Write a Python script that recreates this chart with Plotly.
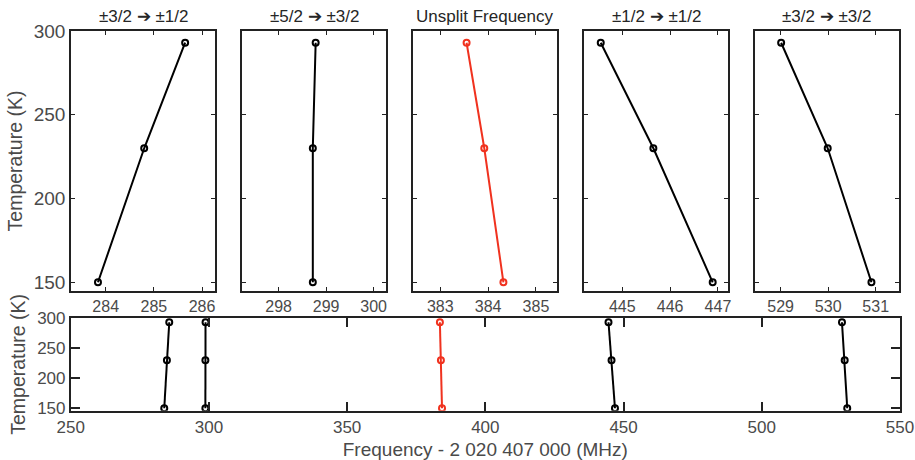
import plotly.graph_objects as go

# ---- data ----
temperature = [150, 230, 293]
f_32_12 = [283.84, 284.80, 285.65]
f_52_32 = [298.72, 298.72, 298.78]
f_unsplit = [384.32, 383.92, 383.55]
f_12_12 = [446.89, 445.65, 444.55]
f_32_32 = [530.91, 529.99, 529.01]

panel_titles = ["±3/2 ➔ ±1/2", "±5/2 ➔ ±3/2", "Unsplit Frequency", "±1/2 ➔ ±1/2", "±3/2 ➔ ±3/2"]
panel_series = [f_32_12, f_52_32, f_unsplit, f_12_12, f_32_32]
panel_colors = ["black", "black", "#f0321f", "black", "black"]
panel_tickvals = [[284, 285, 286], [298, 299, 300], [383, 384, 385], [445, 446, 447], [529, 530, 531]]
panel_ranges = [[283.28, 286.27], [297.23, 300.26], [382.43, 385.44], [444.20, 447.21], [528.46, 531.49]]
y_ticks = [150, 200, 250, 300]
bottom_xticks = [250, 300, 350, 400, 450, 500, 550]

W, H = 915, 460
FONT = "Liberation Sans, Arial, sans-serif"
TICKC = "#4a4a4a"

fig = go.Figure()

def px_x(p):
    return p / W

def px_y(p):
    return 1 - p / H

top_y = [px_y(291), px_y(31)]
bot_y = [px_y(410.7), px_y(318)]

layout = dict(
    width=W, height=H, margin=dict(l=0, r=0, t=0, b=0, autoexpand=False),
    paper_bgcolor="white", plot_bgcolor="white", showlegend=False,
    font=dict(family=FONT, color=TICKC),
)

annotations = []
for i in range(5):
    n = i + 1
    xa = "x" if n == 1 else f"x{n}"
    ya = "y" if n == 1 else f"y{n}"
    fig.add_trace(go.Scatter(
        x=panel_series[i], y=temperature, mode="lines+markers",
        line=dict(color=panel_colors[i], width=2),
        marker=dict(symbol="circle-open", size=6, color=panel_colors[i], line=dict(width=2)),
        xaxis=xa, yaxis=ya))
    left = 71 + i * 171
    dom = [px_x(left), px_x(left + 144)]
    layout[f"xaxis{n if n > 1 else ''}"] = dict(
        domain=dom, anchor=ya, range=panel_ranges[i], tickvals=panel_tickvals[i],
        ticks="inside", ticklen=4, tickwidth=1.2, tickcolor="#222",
        showline=True, linecolor="#222", linewidth=1.6, mirror="ticks",
        showgrid=False, zeroline=False, automargin=False,
        tickfont=dict(size=16, color=TICKC, family=FONT))
    layout[f"yaxis{n if n > 1 else ''}"] = dict(
        domain=top_y, anchor=xa, range=[144.8, 300], tickvals=y_ticks,
        ticks="inside", ticklen=4, tickwidth=1.2, tickcolor="#222",
        showline=True, linecolor="#222", linewidth=1.6, mirror="ticks",
        showgrid=False, zeroline=False, showticklabels=(n == 1), automargin=False,
        tickfont=dict(size=19, color=TICKC, family=FONT))
    annotations.append(dict(
        text=panel_titles[i], x=(dom[0] + dom[1]) / 2, y=px_y(16), xref="paper", yref="paper",
        showarrow=False, xanchor="center", yanchor="middle",
        font=dict(size=17, color="#262626", family=FONT)))

layout["yaxis"]["title"] = dict(text="Temperature (K)", font=dict(size=19.5, color=TICKC, family=FONT), standoff=6)

# bottom overview panel
for i in range(5):
    fig.add_trace(go.Scatter(
        x=panel_series[i], y=temperature, mode="lines+markers",
        line=dict(color=panel_colors[i], width=2),
        marker=dict(symbol="circle-open", size=6, color=panel_colors[i], line=dict(width=2)),
        xaxis="x6", yaxis="y6"))

layout["xaxis6"] = dict(
    domain=[px_x(70.7), px_x(900)], anchor="y6", range=[250, 550], tickvals=bottom_xticks,
    ticks="inside", ticklen=9, tickwidth=1.6, tickcolor="#222",
    showline=True, linecolor="#222", linewidth=1.6, mirror="ticks",
    showgrid=False, zeroline=False, automargin=False, ticklabeloverflow="allow",
    tickfont=dict(size=17, color=TICKC, family=FONT),
    title=dict(text="Frequency - 2 020 407 000 (MHz)", font=dict(size=19, color=TICKC, family=FONT), standoff=9))
layout["yaxis6"] = dict(
    domain=bot_y, anchor="x6", range=[146, 300], tickvals=y_ticks,
    ticks="inside", ticklen=9, tickwidth=1.6, tickcolor="#222",
    showline=True, linecolor="#222", linewidth=1.6, mirror="ticks",
    showgrid=False, zeroline=False, automargin=False,
    tickfont=dict(size=17, color=TICKC, family=FONT),
    title=dict(text="Temperature (K)", font=dict(size=19.5, color=TICKC, family=FONT), standoff=6))

layout["annotations"] = annotations
fig.update_layout(**layout)
fig.write_html("out.html", config={"displayModeBar": False},
               post_script="document.body.style.margin='0';document.body.style.overflow='hidden';")
